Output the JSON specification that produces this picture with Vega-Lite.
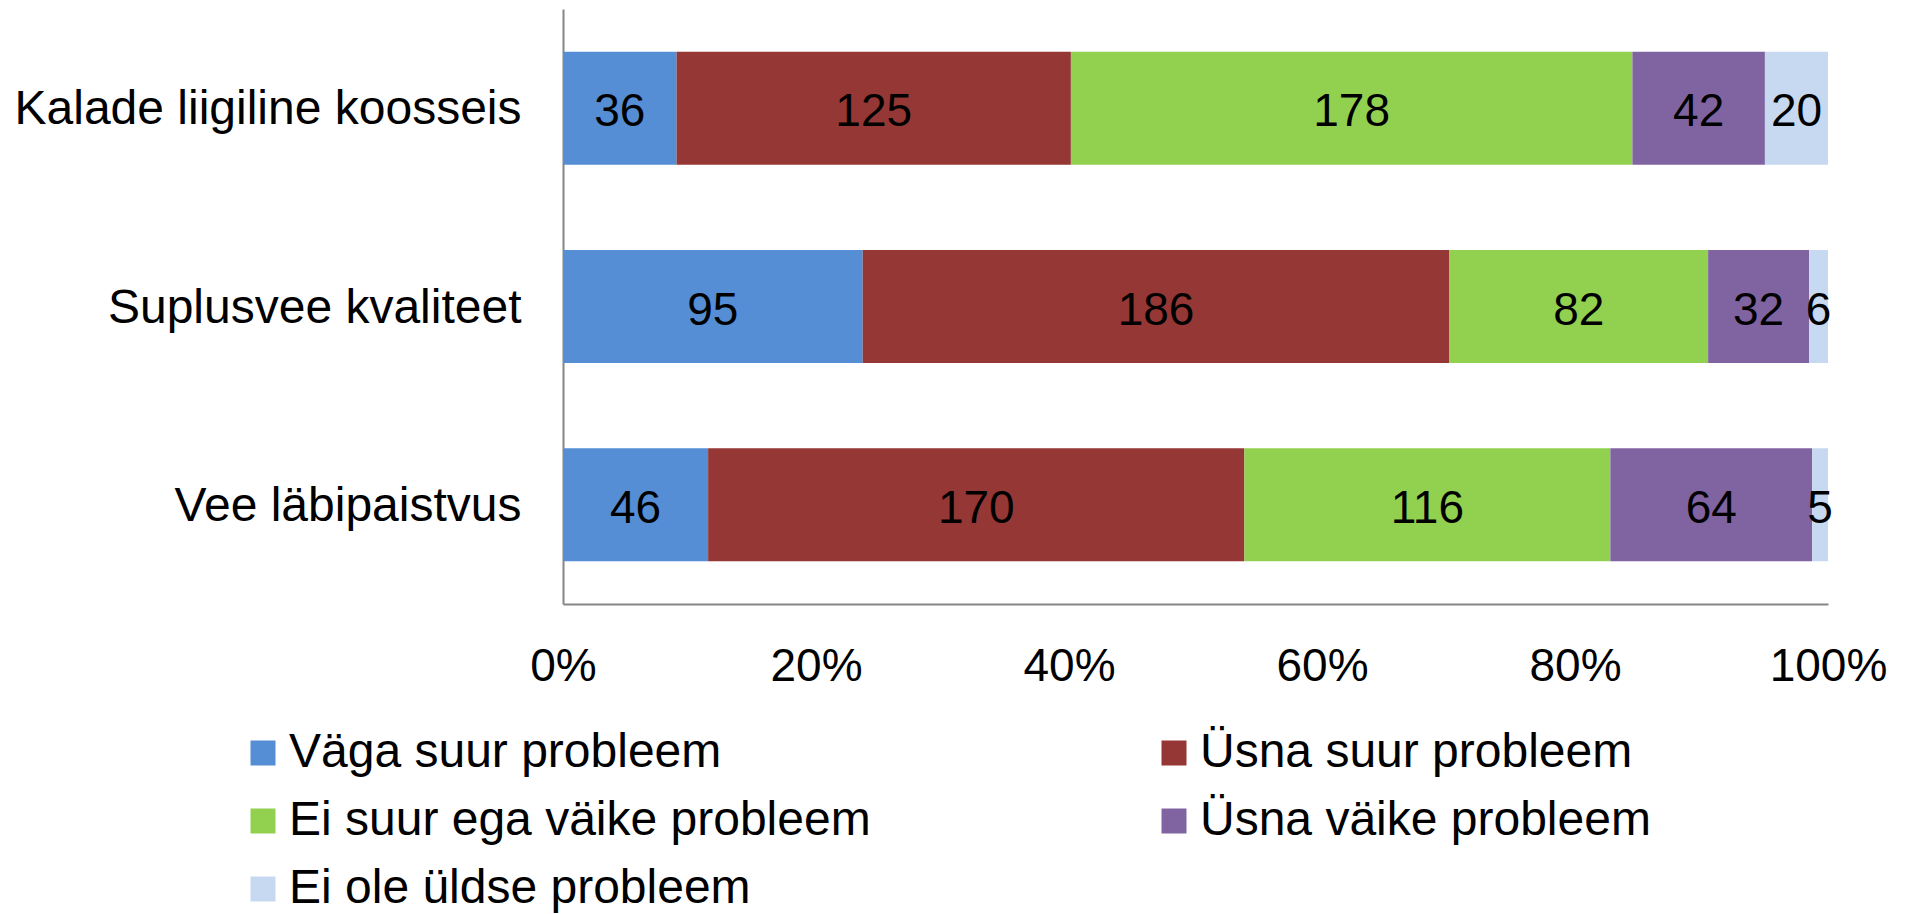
{
  "$schema": "https://vega.github.io/schema/vega-lite/v6.json",
  "autosize": {"type": "none"},
  "width": 1265,
  "height": 595,
  "padding": {"left": 563, "top": 9, "right": 80, "bottom": 310},
  "background": "white",
  "config": {"font": "Liberation Sans", "view": {"stroke": null}},
  "data": {
    "values": [
      {"item": "Kalade liigiline koosseis", "cat": "Väga suur probleem", "order": 1, "value": 36},
      {"item": "Kalade liigiline koosseis", "cat": "Üsna suur probleem", "order": 2, "value": 125},
      {"item": "Kalade liigiline koosseis", "cat": "Ei suur ega väike probleem", "order": 3, "value": 178},
      {"item": "Kalade liigiline koosseis", "cat": "Üsna väike probleem", "order": 4, "value": 42},
      {"item": "Kalade liigiline koosseis", "cat": "Ei ole üldse probleem", "order": 5, "value": 20},
      {"item": "Suplusvee kvaliteet", "cat": "Väga suur probleem", "order": 1, "value": 95},
      {"item": "Suplusvee kvaliteet", "cat": "Üsna suur probleem", "order": 2, "value": 186},
      {"item": "Suplusvee kvaliteet", "cat": "Ei suur ega väike probleem", "order": 3, "value": 82},
      {"item": "Suplusvee kvaliteet", "cat": "Üsna väike probleem", "order": 4, "value": 32},
      {"item": "Suplusvee kvaliteet", "cat": "Ei ole üldse probleem", "order": 5, "value": 6},
      {"item": "Vee läbipaistvus", "cat": "Väga suur probleem", "order": 1, "value": 46},
      {"item": "Vee läbipaistvus", "cat": "Üsna suur probleem", "order": 2, "value": 170},
      {"item": "Vee läbipaistvus", "cat": "Ei suur ega väike probleem", "order": 3, "value": 116},
      {"item": "Vee läbipaistvus", "cat": "Üsna väike probleem", "order": 4, "value": 64},
      {"item": "Vee läbipaistvus", "cat": "Ei ole üldse probleem", "order": 5, "value": 5}
    ]
  },
  "transform": [
    {"stack": "value", "groupby": ["item"], "sort": [{"field": "order"}], "offset": "normalize", "as": ["x0", "x1"]},
    {"calculate": "(datum.x0 + datum.x1) / 2", "as": "mid"}
  ],
  "encoding": {
    "y": {
      "field": "item",
      "type": "nominal",
      "sort": ["Kalade liigiline koosseis", "Suplusvee kvaliteet", "Vee läbipaistvus"],
      "scale": {"paddingInner": 0.43, "paddingOuter": 0.215},
      "axis": {
        "title": null,
        "ticks": false,
        "labelFontSize": 48,
        "labelColor": "black",
        "labelPadding": 42,
        "labelOffset": 2,
        "labelLimit": 700,
        "domainColor": "#868686",
        "domainWidth": 2
      }
    }
  },
  "layer": [
    {
      "mark": {"type": "bar"},
      "encoding": {
        "x": {
          "field": "x0",
          "type": "quantitative",
          "scale": {"domain": [0, 1]},
          "axis": {
            "title": null,
            "values": [0, 0.2, 0.4, 0.6, 0.8, 1],
            "format": ".0%",
            "ticks": false,
            "grid": false,
            "labelFontSize": 46,
            "labelColor": "black",
            "labelPadding": 40,
            "labelFlush": false,
            "domainColor": "#868686",
            "domainWidth": 2
          }
        },
        "x2": {"field": "x1"},
        "color": {
          "field": "cat",
          "type": "nominal",
          "scale": {
            "domain": ["Väga suur probleem", "Ei suur ega väike probleem", "Ei ole üldse probleem", "Üsna suur probleem", "Üsna väike probleem"],
            "range": ["#558ED5", "#92D050", "#C6D9F1", "#953735", "#8064A2"]
          },
          "legend": {
            "title": null,
            "orient": "none",
            "legendX": -324,
            "legendY": 720,
            "columns": 2,
            "columnPadding": 279,
            "rowPadding": 20,
            "symbolType": "square",
            "symbolSize": 625,
            "symbolStrokeWidth": 0,
            "labelFontSize": 48,
            "labelColor": "black",
            "labelOffset": 2,
            "labelLimit": 800,
            "padding": 0
          }
        }
      }
    },
    {
      "mark": {"type": "text", "fontSize": 46, "color": "black", "dy": 4},
      "encoding": {
        "x": {"field": "mid", "type": "quantitative"},
        "text": {"field": "value", "type": "quantitative"}
      }
    }
  ]
}
